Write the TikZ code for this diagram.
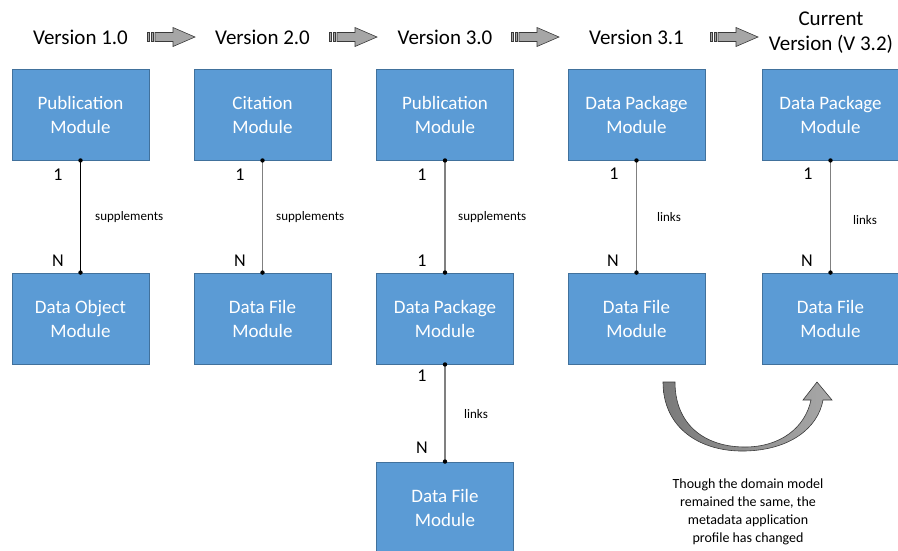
\documentclass[tikz,border=0pt]{standalone}
\usepackage{fontspec}
\setmainfont{Carlito}
\definecolor{boxblue}{HTML}{5B9BD5}
\definecolor{boxedge}{HTML}{41719C}
\definecolor{arrgray}{HTML}{A6A6A6}
\definecolor{arredge}{HTML}{3A3A3A}
\definecolor{linegray}{HTML}{808080}
\definecolor{curvedark}{HTML}{7A7A7A}
\definecolor{curvelight}{HTML}{A8A8A8}
\begin{document}
\begin{tikzpicture}[x=1pt,y=-1pt,
  module/.style={draw=boxedge, line width=0.9pt, fill=boxblue, text=white,
    minimum width=137pt, minimum height=91pt, inner sep=0pt, align=center,
    font=\fontsize{19}{24}\selectfont},
  vlabel/.style={font=\fontsize{21}{25}\selectfont, align=center, inner sep=0pt},
  card/.style={font=\fontsize{18}{20}\selectfont, inner sep=0pt},
  rel/.style={font=\fontsize{13}{15}\selectfont, inner sep=0pt, anchor=west},
  conn/.style={draw=linegray, line width=1.4pt},
  enddot/.style={fill=black},
  note/.style={font=\fontsize{14}{18}\selectfont, align=center, inner sep=0pt},
  verarrow/.pic={
    \draw[arredge, fill=arrgray, line width=0.6pt] (0,-4.5) rectangle (2.5,4.5);
    \draw[arredge, fill=arrgray, line width=0.6pt] (4,-4.5) rectangle (6.5,4.5);
    \draw[arredge, fill=arrgray, line width=0.6pt, line join=miter]
      (8,-4.5) -- (26,-4.5) -- (26,-9.5) -- (48,0) -- (26,9.5) -- (26,4.5) -- (8,4.5) -- cycle;
  }]
\useasboundingbox (0,0) rectangle (898,550);

% version labels
\node[vlabel] (v10) at (80.5,37) {Version 1.0};
\node[vlabel] (v20) at (262.5,37) {Version 2.0};
\node[vlabel] (v30) at (445,37) {Version 3.0};
\node[vlabel] (v31) at (636.5,37) {Version 3.1};
\node[vlabel] (v32) at (831,32.5) {Current\\Version (V 3.2)};

% version arrows
\pic at (147,37) {verarrow};
\pic at (329,37) {verarrow};
\pic at (511,37) {verarrow};
\pic at (710,37) {verarrow};

% modules
\node[module] (pub1) at (80.5,114.5) {Publication\\Module};
\node[module] (dob1) at (80.5,318.5) {Data Object\\Module};
\node[module] (cit2) at (262.5,114.5) {Citation\\Module};
\node[module] (dfm2) at (262.5,318.5) {Data File\\Module};
\node[module] (pub3) at (445,114.5) {Publication\\Module};
\node[module] (dpk3) at (445,318.5) {Data Package\\Module};
\node[module] (dfm3) at (445,507.5) {Data File\\Module};
\node[module] (dpk4) at (636.5,114.5) {Data Package\\Module};
\node[module] (dfm4) at (636.5,318.5) {Data File\\Module};
\node[module] (dpk5) at (830.5,114.5) {Data Package\\Module};
\node[module] (dfm5) at (830.5,318.5) {Data File\\Module};

% connectors
\draw[conn, draw=black] (pub1.south) -- (dob1.north);
\draw[conn] (cit2.south) -- (dfm2.north);
\draw[conn] (pub3.south) -- (dpk3.north);
\draw[conn] (dpk3.south) -- (dfm3.north);
\draw[conn] (dpk4.south) -- (dfm4.north);
\draw[conn] (dpk5.south) -- (dfm5.north);
\foreach \n in {pub1,cit2,pub3,dpk3,dpk4,dpk5}{\fill[enddot] (\n.south) circle (2.2pt);}
\foreach \n in {dob1,dfm2,dpk3,dfm3,dfm4,dfm5}{\fill[enddot] (\n.north) circle (2.2pt);}

% cardinalities
\node[card] (c1a) at (58,175) {1};
\node[card] (c1b) at (58,261) {N};
\node[card] (c2a) at (240,175) {1};
\node[card] (c2b) at (240,261) {N};
\node[card] (c3a) at (422,175) {1};
\node[card] (c3b) at (422,261) {1};
\node[card] (c3c) at (422,376) {1};
\node[card] (c3d) at (422,448) {N};
\node[card] (c4a) at (614,174) {1};
\node[card] (c4b) at (613,261) {N};
\node[card] (c5a) at (808,174) {1};
\node[card] (c5b) at (807,261) {N};

% relation names
\node[rel] (r1) at (95,217) {supplements};
\node[rel] (r2) at (276,217) {supplements};
\node[rel] (r3) at (458,217) {supplements};
\node[rel] (r3b) at (464,414) {links};
\node[rel] (r4) at (657,217) {links};
\node[rel] (r5) at (853,220) {links};

% curved arrow
\draw[arredge, line width=0.6pt, left color=curvedark, right color=curvelight, line join=miter]
  (663,382) .. controls (663,428) and (700,452) .. (745,451)
  .. controls (790,450) and (818,428) .. (823,400)
  -- (832,400) -- (817,382) -- (803,400) -- (811,400)
  .. controls (805,428) and (780,447) .. (745,447)
  .. controls (705,447) and (675,425) .. (675,382) -- cycle;

% note
\node[note] (txt) at (748,512) {Though the domain model\\remained the same, the\\metadata application\\profile has changed};
\end{tikzpicture}
\end{document}
